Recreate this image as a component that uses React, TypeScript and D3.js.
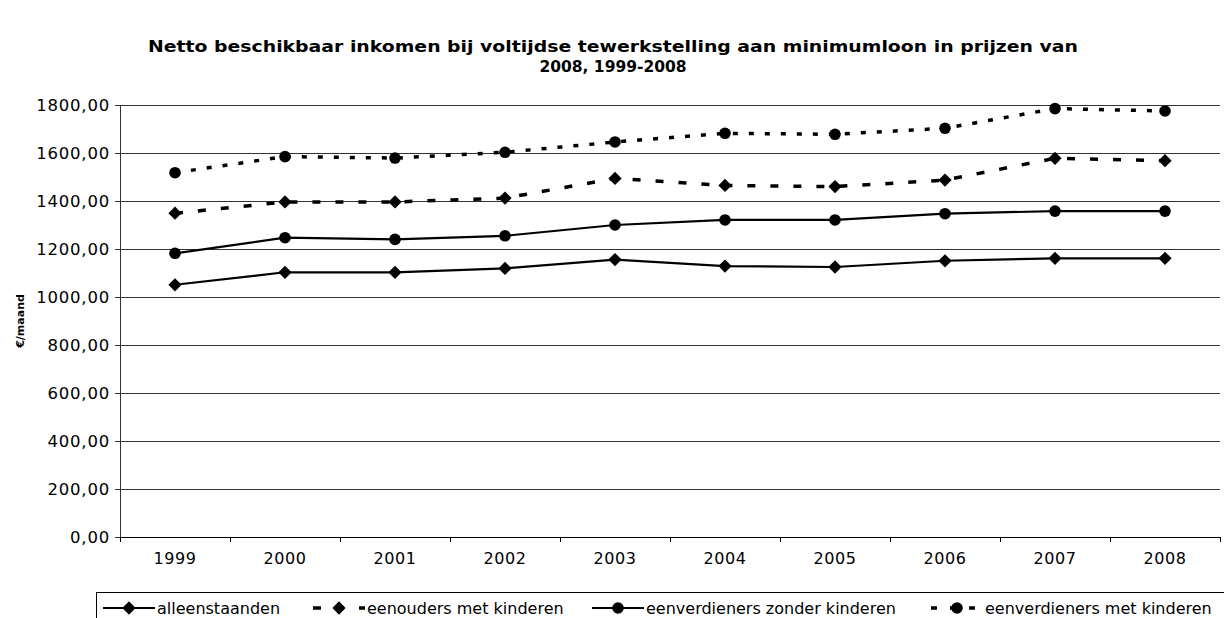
import React, { useEffect, useRef } from 'react';
import * as d3 from 'd3';

const years = ['1999', '2000', '2001', '2002', '2003', '2004', '2005', '2006', '2007', '2008'];
const alleenstaanden = [1051, 1103, 1103, 1119, 1156, 1129, 1125, 1151, 1161, 1161];
const eenouders = [1349, 1396, 1396, 1412, 1494, 1465, 1460, 1487, 1578, 1568];
const zonderKinderen = [1182, 1247, 1240, 1255, 1300, 1321, 1321, 1347, 1358, 1358];
const metKinderen = [1518, 1585, 1579, 1603, 1646, 1682, 1678, 1703, 1785, 1775];
const yTicks = [0, 200, 400, 600, 800, 1000, 1200, 1400, 1600, 1800];

const series = [
  { name: 'alleenstaanden', values: alleenstaanden, dash: null, width: 2.2, marker: 'diamond' },
  { name: 'eenouders met kinderen', values: eenouders, dash: '8,15', width: 3.5, marker: 'diamond' },
  { name: 'eenverdieners zonder kinderen', values: zonderKinderen, dash: null, width: 2.2, marker: 'circle' },
  { name: 'eenverdieners met kinderen', values: metKinderen, dash: '5,11', width: 3.5, marker: 'circle' },
];

const FONT = '"DejaVu Sans", Verdana, sans-serif';

const App = () => {
  const ref = useRef<SVGSVGElement>(null);

  useEffect(() => {
    document.body.style.margin = '0';
    const svg = d3.select(ref.current);
    svg.selectAll('*').remove();

    const left = 120, right = 1220, top = 105, bottom = 537;

    const x = d3.scaleBand().domain(years).range([left, right]);
    const y = d3.scaleLinear().domain([0, 1800]).range([bottom, top]);
    const cx = (d: string) => (x(d) as number) + x.bandwidth() / 2;

    // title
    const title = svg.append('text')
      .attr('text-anchor', 'middle')
      .attr('font-family', FONT)
      .attr('font-weight', 'bold')
      .attr('font-size', 15.5)
      .attr('fill', '#000');
    title.append('tspan').attr('x', 613).attr('y', 52)
      .attr('textLength', 930).attr('lengthAdjust', 'spacingAndGlyphs')
      .text('Netto beschikbaar inkomen bij voltijdse tewerkstelling aan minimumloon in prijzen van');
    title.append('tspan').attr('x', 613).attr('y', 72).text('2008, 1999-2008');

    // gridlines
    svg.append('g').selectAll('line')
      .data(yTicks.filter(t => t > 0))
      .enter().append('line')
      .attr('x1', left).attr('x2', right)
      .attr('y1', d => y(d)).attr('y2', d => y(d))
      .attr('stroke', '#333').attr('stroke-width', 1)
      .attr('shape-rendering', 'crispEdges');

    // y axis
    const yAxis = svg.append('g')
      .attr('transform', `translate(${left},0)`)
      .call(d3.axisLeft(y).tickValues(yTicks).tickSize(5).tickSizeOuter(0)
        .tickFormat(d => (d as number).toFixed(2).replace('.', ',')));
    yAxis.selectAll('text').attr('font-family', FONT).attr('font-size', 16.5)
      .attr('letter-spacing', 0.8).attr('fill', '#000').attr('dx', -2);
    yAxis.selectAll('line, path').attr('stroke', '#333').attr('shape-rendering', 'crispEdges');

    // x axis
    const xAxis = svg.append('g')
      .attr('transform', `translate(0,${bottom})`)
      .call(d3.axisBottom(x).tickSize(0).tickSizeOuter(0));
    xAxis.select('path').attr('stroke', '#000').attr('shape-rendering', 'crispEdges');
    xAxis.selectAll('text').attr('font-family', FONT).attr('font-size', 16)
      .attr('letter-spacing', 0.6).attr('fill', '#000').attr('dy', '1.5em');
    svg.append('g').selectAll('line')
      .data(d3.range(years.length + 1))
      .enter().append('line')
      .attr('x1', i => left + i * x.bandwidth()).attr('x2', i => left + i * x.bandwidth())
      .attr('y1', bottom).attr('y2', bottom + 5)
      .attr('stroke', '#000').attr('shape-rendering', 'crispEdges');

    // y label
    svg.append('text')
      .attr('transform', `translate(24,${(top + bottom) / 2}) rotate(-90)`)
      .attr('text-anchor', 'middle')
      .attr('font-family', FONT).attr('font-weight', 'bold').attr('font-size', 11)
      .text('€/maand');

    const diamond = d3.symbol().type(d3.symbolSquare).size(88);
    const drawMarker = (g: any, kind: string, px: number, py: number) => {
      if (kind === 'circle') {
        g.append('circle').attr('cx', px).attr('cy', py).attr('r', 5.8).attr('fill', '#000');
      } else {
        g.append('path').attr('d', diamond())
          .attr('transform', `translate(${px},${py}) rotate(45)`).attr('fill', '#000');
      }
    };

    // lines
    const line = d3.line<number>().x((_, i) => cx(years[i])).y(d => y(d));
    series.forEach(s => {
      const g = svg.append('g');
      g.append('path')
        .attr('d', line(s.values))
        .attr('fill', 'none')
        .attr('stroke', '#000')
        .attr('stroke-width', s.width)
        .attr('stroke-dasharray', s.dash);
      s.values.forEach((v, i) => drawMarker(g, s.marker, cx(years[i]), y(v)));
    });

    // legend
    const lg = svg.append('g');
    lg.append('rect').attr('x', 96.5).attr('y', 592.5).attr('width', 1140).attr('height', 40)
      .attr('fill', 'none').attr('stroke', '#000');
    const legendX = [103, 313, 592, 931];
    series.forEach((s, i) => {
      const lx = legendX[i], ly = 608;
      lg.append('line').attr('x1', lx).attr('x2', lx + 52).attr('y1', ly).attr('y2', ly)
        .attr('stroke', '#000').attr('stroke-width', s.width)
        .attr('stroke-dasharray', s.dash ? (s.marker === 'circle' ? '6,13' : '8,15') : null);
      drawMarker(lg, s.marker, lx + 26, ly);
      lg.append('text').attr('x', lx + 54).attr('y', ly + 6)
        .attr('font-family', FONT).attr('font-size', 16)
        .text(s.name);
    });
  }, []);

  return (
    <div>
      <svg ref={ref} width={1224} height={618} style={{ display: 'block' }}></svg>
    </div>
  );
};

export default App;
